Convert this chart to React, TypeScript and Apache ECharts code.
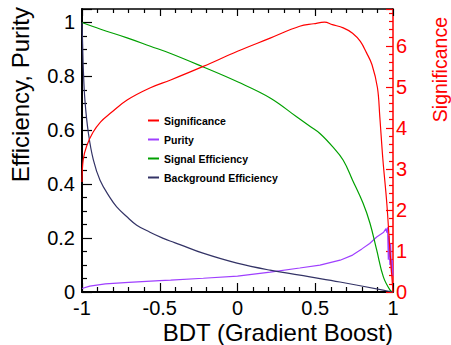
import React, { useEffect, useRef } from "react";
import * as echarts from "echarts";

// ---- data ----
const sigX = [-1, -0.992, -0.97, -0.93, -0.88, -0.82, -0.71, -0.56, -0.43, -0.22, 0, 0.21, 0.4, 0.49, 0.56, 0.61, 0.68, 0.74, 0.79, 0.83, 0.865, 0.9, 0.915, 0.935, 0.96, 0.98, 1.0];
const significance = [2.68, 3.23, 3.56, 3.89, 4.15, 4.35, 4.68, 4.98, 5.17, 5.5, 5.87, 6.19, 6.48, 6.54, 6.58, 6.52, 6.44, 6.31, 6.11, 5.83, 5.54, 4.98, 4.28, 3.23, 2.17, 1.03, 0];

const purX = [-1, -0.95, -0.85, -0.7, -0.5, -0.43, -0.22, 0, 0.21, 0.4, 0.53, 0.66, 0.74, 0.8, 0.85, 0.895, 0.94, 0.955, 0.96, 0.965, 0.97, 0.975, 0.98, 0.985, 0.99, 0.995, 1.0];
const purity = [0.013, 0.022, 0.03, 0.036, 0.042, 0.044, 0.051, 0.059, 0.074, 0.089, 0.1, 0.118, 0.137, 0.16, 0.18, 0.204, 0.222, 0.235, 0.22, 0.24, 0.12, 0.21, 0.1, 0.18, 0.07, 0.12, 0.06];

const effSX = [-1, -0.88, -0.71, -0.56, -0.43, -0.22, 0, 0.21, 0.38, 0.47, 0.53, 0.61, 0.68, 0.74, 0.807, 0.852, 0.895, 0.938, 0.981, 1.0];
const signalEff = [1.0, 0.975, 0.943, 0.912, 0.885, 0.835, 0.78, 0.72, 0.65, 0.613, 0.588, 0.54, 0.489, 0.415, 0.33, 0.255, 0.156, 0.056, 0.007, 0];

const effBX = [-1, -0.996, -0.992, -0.981, -0.959, -0.927, -0.884, -0.82, -0.777, -0.713, -0.648, -0.563, -0.477, -0.434, -0.37, -0.222, -0.003, 0.209, 0.466, 0.659, 0.936, 1.0];
const backgroundEff = [1.0, 0.92, 0.835, 0.71, 0.59, 0.49, 0.415, 0.35, 0.316, 0.28, 0.248, 0.222, 0.199, 0.189, 0.176, 0.144, 0.107, 0.081, 0.056, 0.037, 0.007, 0];

const xTicks = [-1, -0.5, 0, 0.5, 1];
const leftTicks = [0, 0.2, 0.4, 0.6, 0.8, 1];
const rightTicks = [0, 1, 2, 3, 4, 5, 6];

const FONT = "'Liberation Sans', Arial, Helvetica, sans-serif";

const zip = (xs: number[], ys: number[]) => xs.map((x, i) => [x, ys[i]]);
const isTick = (list: number[]) => (v: number) =>
  list.some((t) => Math.abs(t - v) < 1e-6) ? String(+v.toFixed(2)) : "";

export default function App() {
  const ref = useRef<HTMLDivElement>(null);
  useEffect(() => {
    if (!ref.current) return;
    const chart = echarts.init(ref.current, undefined, { renderer: "svg" });
    chart.setOption({
      animation: false,
      backgroundColor: "#ffffff",
      grid: { left: 82, top: 9, width: 311, height: 283, containLabel: false },
      legend: {
        orient: "vertical",
        left: 148,
        top: 111,
        padding: 0,
        itemWidth: 11,
        itemHeight: 2,
        itemGap: 0,
        icon: "rect",
        textStyle: { fontFamily: FONT, fontSize: 10.5, fontWeight: "bold", color: "#000", lineHeight: 19 },
        data: ["Significance", "Purity", "Signal Efficiency", "Background Efficiency"],
      },
      xAxis: [
        {
          type: "value",
          min: -1,
          max: 1,
          interval: 0.5,
          position: "bottom",
          axisLine: { show: true, onZero: false, lineStyle: { color: "#000", width: 2 } },
          axisTick: { show: true, inside: true, length: 9, lineStyle: { color: "#000", width: 1.2 } },
          minorTick: { show: true, splitNumber: 5, length: 5, lineStyle: { color: "#000", width: 1.2 } },
          splitLine: { show: false },
          axisLabel: { margin: 6, fontFamily: FONT, fontSize: 20, color: "#000", formatter: isTick(xTicks) },
        },
        {
          type: "value",
          min: -1,
          max: 1,
          interval: 0.5,
          position: "top",
          axisLine: { show: true, onZero: false, lineStyle: { color: "#000", width: 1.5 } },
          axisTick: { show: true, inside: true, length: 7, lineStyle: { color: "#000", width: 1.2 } },
          minorTick: { show: true, splitNumber: 5, length: 4, lineStyle: { color: "#000", width: 1.2 } },
          splitLine: { show: false },
          axisLabel: { show: false },
        },
      ],
      yAxis: [
        {
          type: "value",
          min: 0,
          max: 1.05,
          interval: 0.2,
          position: "left",
          axisLine: { show: true, onZero: false, lineStyle: { color: "#000", width: 2 } },
          axisTick: { show: true, inside: true, length: 10, lineStyle: { color: "#000", width: 1.2 } },
          minorTick: { show: true, splitNumber: 4, length: 5, lineStyle: { color: "#000", width: 1.2 } },
          splitLine: { show: false },
          axisLabel: { margin: 7, fontFamily: FONT, fontSize: 20, color: "#000", formatter: isTick(leftTicks) },
        },
        {
          type: "value",
          min: 0,
          max: 6.9,
          interval: 1,
          position: "right",
          axisLine: { show: true, onZero: false, lineStyle: { color: "#ff0000", width: 1.5 } },
          axisTick: { show: true, inside: true, length: 7, lineStyle: { color: "#ff0000", width: 1.2 } },
          minorTick: { show: true, splitNumber: 5, length: 4, lineStyle: { color: "#ff0000", width: 1.2 } },
          splitLine: { show: false },
          axisLabel: { margin: 3, fontFamily: FONT, fontSize: 20, color: "#ff0000", formatter: isTick(rightTicks) },
        },
      ],
      graphic: [
        {
          type: "text",
          x: 393,
          y: 332,
          style: { text: "BDT (Gradient Boost)", font: `24px ${FONT}`, fill: "#000", textAlign: "right", textVerticalAlign: "middle" },
        },
        {
          type: "text",
          x: 20,
          y: 7,
          rotation: Math.PI / 2,
          style: { text: "Efficiency, Purity", font: `24px ${FONT}`, fill: "#000", textAlign: "right", textVerticalAlign: "middle" },
        },
        {
          type: "text",
          x: 440,
          y: 17,
          rotation: Math.PI / 2,
          style: { text: "Significance", font: `19.5px ${FONT}`, fill: "#ff0000", textAlign: "right", textVerticalAlign: "middle" },
        },
      ],
      series: [
        {
          name: "Significance",
          type: "line",
          yAxisIndex: 1,
          showSymbol: false,
          smooth: 0.4,
          data: zip(sigX, significance),
          lineStyle: { color: "#ff0000", width: 1.2 },
          itemStyle: { color: "#ff0000" },
          z: 5,
        },
        {
          name: "Purity",
          type: "line",
          showSymbol: false,
          data: zip(purX, purity),
          lineStyle: { color: "#9f3fff", width: 1.2 },
          itemStyle: { color: "#9f3fff" },
        },
        {
          name: "Signal Efficiency",
          type: "line",
          showSymbol: false,
          smooth: 0.4,
          data: zip(effSX, signalEff),
          lineStyle: { color: "#00a000", width: 1.2 },
          itemStyle: { color: "#00a000" },
        },
        {
          name: "Background Efficiency",
          type: "line",
          showSymbol: false,
          smooth: 0.4,
          data: zip(effBX, backgroundEff),
          lineStyle: { color: "#333366", width: 1.2 },
          itemStyle: { color: "#333366" },
        },
      ],
    });
    return () => chart.dispose();
  }, []);
  return <div ref={ref} style={{ position: "fixed", left: 0, top: 0, width: 451, height: 345 }} />;
}
